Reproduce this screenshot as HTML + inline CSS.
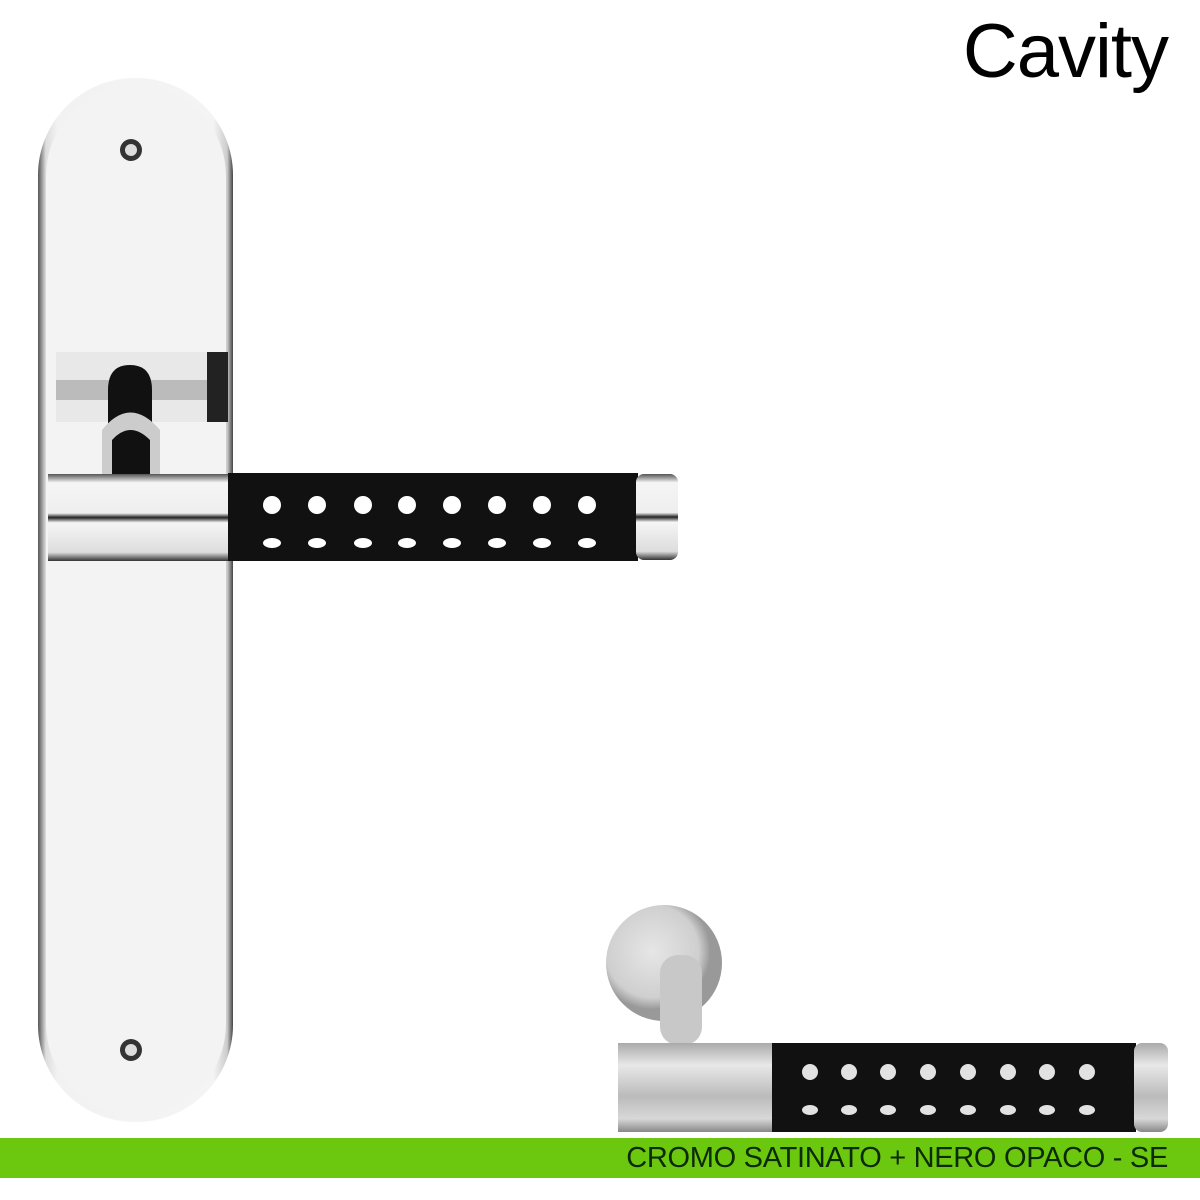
<!DOCTYPE html>
<html><head><style>
html,body{margin:0;padding:0;background:#fff;}
body{width:1200px;height:1200px;position:relative;overflow:hidden;font-family:"Liberation Sans",sans-serif;}
.t{position:absolute;right:32px;top:8px;font-size:76px;color:#000;letter-spacing:-1px;}
.bar{position:absolute;left:0;top:1138px;width:1200px;height:40px;background:#6cc70f;}
.bt{position:absolute;right:32px;top:1140px;font-size:29px;color:#0b2a05;line-height:36px;letter-spacing:-0.3px;}
</style></head><body>
<svg width="1200" height="1200" style="position:absolute;left:0;top:0">
<defs>
<linearGradient id="pl" x1="0" x2="1"><stop offset="0" stop-color="#555"/><stop offset="0.04" stop-color="#ddd"/><stop offset="0.1" stop-color="#f2f2f2"/><stop offset="0.9" stop-color="#f4f4f4"/><stop offset="0.97" stop-color="#ccc"/><stop offset="1" stop-color="#444"/></linearGradient>
<linearGradient id="ch" x1="0" y1="0" x2="0" y2="1"><stop offset="0" stop-color="#555"/><stop offset="0.1" stop-color="#f5f5f5"/><stop offset="0.45" stop-color="#eee"/><stop offset="0.5" stop-color="#222"/><stop offset="0.56" stop-color="#f5f5f5"/><stop offset="0.9" stop-color="#ddd"/><stop offset="1" stop-color="#333"/></linearGradient>
<linearGradient id="sa" x1="0" y1="0" x2="0" y2="1"><stop offset="0" stop-color="#aaa"/><stop offset="0.25" stop-color="#e8e8e8"/><stop offset="0.6" stop-color="#bbb"/><stop offset="0.85" stop-color="#d8d8d8"/><stop offset="1" stop-color="#888"/></linearGradient>
<radialGradient id="ro" cx="0.4" cy="0.4"><stop offset="0" stop-color="#e6e6e6"/><stop offset="0.8" stop-color="#cfcfcf"/><stop offset="1" stop-color="#999"/></radialGradient>
</defs>
<rect x="38" y="78" width="195" height="1044" rx="97" fill="url(#pl)"/>
<rect x="46" y="86" width="180" height="1028" rx="90" fill="#f3f3f3"/>
<circle cx="131" cy="150" r="11" fill="#333"/><circle cx="131" cy="150" r="6" fill="#ddd"/>
<circle cx="131" cy="1050" r="11" fill="#333"/><circle cx="131" cy="1050" r="6" fill="#ddd"/>
<rect x="56" y="352" width="172" height="70" fill="#e8e8e8"/>
<rect x="56" y="380" width="172" height="20" fill="#bbb"/>
<rect x="207" y="352" width="21" height="70" fill="#222"/>
<path d="M108 474 L108 390 Q108 365 130 365 Q152 365 152 390 L152 474 Z" fill="#111"/>
<path d="M102 430 Q130 395 160 430 L160 474 L150 474 L150 440 Q130 420 112 440 L112 474 L102 474 Z" fill="#ccc"/>
<rect x="48" y="474" width="182" height="87" fill="url(#ch)"/>
<rect x="228" y="473" width="410" height="88" fill="#111"/>
<rect x="636" y="474" width="42" height="86" rx="8" fill="url(#ch)"/>
<g fill="#fff">
<circle cx="272" cy="505" r="9"/><circle cx="317" cy="505" r="9"/><circle cx="363" cy="505" r="9"/><circle cx="407" cy="505" r="9"/><circle cx="452" cy="505" r="9"/><circle cx="497" cy="505" r="9"/><circle cx="542" cy="505" r="9"/><circle cx="587" cy="505" r="9"/>
<ellipse cx="272" cy="543" rx="9" ry="5"/><ellipse cx="317" cy="543" rx="9" ry="5"/><ellipse cx="363" cy="543" rx="9" ry="5"/><ellipse cx="407" cy="543" rx="9" ry="5"/><ellipse cx="452" cy="543" rx="9" ry="5"/><ellipse cx="497" cy="543" rx="9" ry="5"/><ellipse cx="542" cy="543" rx="9" ry="5"/><ellipse cx="587" cy="543" rx="9" ry="5"/>
</g>
<circle cx="664" cy="963" r="58" fill="url(#ro)"/>
<rect x="660" y="955" width="42" height="90" rx="18" fill="#c8c8c8"/>
<rect x="618" y="1043" width="156" height="89" fill="url(#sa)"/>
<rect x="772" y="1043" width="364" height="89" fill="#111"/>
<rect x="1134" y="1043" width="34" height="89" rx="8" fill="url(#sa)"/>
<g fill="#e2e2e2">
<circle cx="810" cy="1072" r="8"/><circle cx="849" cy="1072" r="8"/><circle cx="888" cy="1072" r="8"/><circle cx="928" cy="1072" r="8"/><circle cx="968" cy="1072" r="8"/><circle cx="1008" cy="1072" r="8"/><circle cx="1047" cy="1072" r="8"/><circle cx="1087" cy="1072" r="8"/>
<ellipse cx="810" cy="1110" rx="8" ry="5"/><ellipse cx="849" cy="1110" rx="8" ry="5"/><ellipse cx="888" cy="1110" rx="8" ry="5"/><ellipse cx="928" cy="1110" rx="8" ry="5"/><ellipse cx="968" cy="1110" rx="8" ry="5"/><ellipse cx="1008" cy="1110" rx="8" ry="5"/><ellipse cx="1047" cy="1110" rx="8" ry="5"/><ellipse cx="1087" cy="1110" rx="8" ry="5"/>
</g>
</svg>
<div class="t">Cavity</div>
<div class="bar"></div>
<div class="bt">CROMO SATINATO + NERO OPACO - SE</div>
</body></html>
